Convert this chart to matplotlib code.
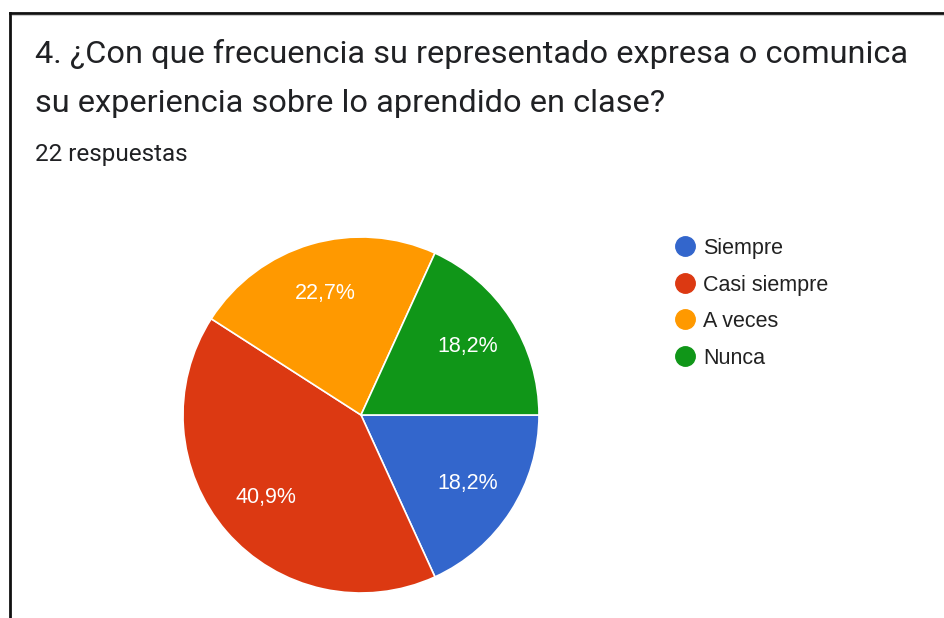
import matplotlib.pyplot as plt
from matplotlib.lines import Line2D

W, H = 944, 618

labels = ["Siempre", "Casi siempre", "A veces", "Nunca"]
counts = [4, 9, 5, 4]
colors = ["#3366CC", "#DC3912", "#FF9900", "#109618"]

title_1 = "4. ¿Con que frecuencia su representado expresa o comunica"
title_2 = "su experiencia sobre lo aprendido en clase?"
subtitle = "22 respuestas"

fig = plt.figure(figsize=(W / 100, H / 100), dpi=100)
fig.patch.set_facecolor("white")

def fx(px):
    return px / W

def fy(py):
    return 1 - py / H

# marco (solo izquierda y arriba visibles)
fig.add_artist(Line2D([fx(10), fx(10)], [fy(13), 0], color="#111111", lw=2))
fig.add_artist(Line2D([fx(10), 1], [fy(13), fy(13)], color="#111111", lw=2))
fig.add_artist(Line2D([fx(12), 1], [fy(15), fy(15)], color="#cccccc", lw=0.8))

# textos
fig.text(fx(35), fy(63), title_1, family="Roboto", fontsize=23.4, color="#202124", va="baseline")
fig.text(fx(35), fy(112), title_2, family="Roboto", fontsize=23.4, color="#202124", va="baseline")
fig.text(fx(35), fy(161), subtitle, family="Roboto", fontsize=17.5, color="#202124", va="baseline")

# pastel
cx, cy, r = 361, 415, 178
L = 1.1
size = 2 * r * L
ax = fig.add_axes([fx(cx - size / 2), fy(cy + size / 2), size / W, size / H])
wedges, texts, autotexts = ax.pie(
    counts, colors=colors, startangle=0, counterclock=False,
    autopct=lambda p: f"{p:.1f}%".replace(".", ","), pctdistance=0.71,
    wedgeprops=dict(edgecolor="white", linewidth=1.2),
    textprops=dict(color="white", family="Liberation Sans", fontsize=15.5),
)
ax.set_xlim(-L, L)
ax.set_ylim(-L, L)
ax.set_aspect("equal")
ax.axis("off")

# leyenda
handles = [Line2D([], [], marker="o", linestyle="", markersize=14,
                  markerfacecolor=c, markeredgecolor=c) for c in colors]
fig.legend(handles, labels, loc="upper left", bbox_to_anchor=(fx(674), fy(238)),
           frameon=False, prop=dict(family="Liberation Sans", size=15.5),
           labelcolor="#222222", handletextpad=0.35, labelspacing=0.72,
           handlelength=1.0, borderaxespad=0, borderpad=0)

fig.savefig("out.png", dpi=100)
